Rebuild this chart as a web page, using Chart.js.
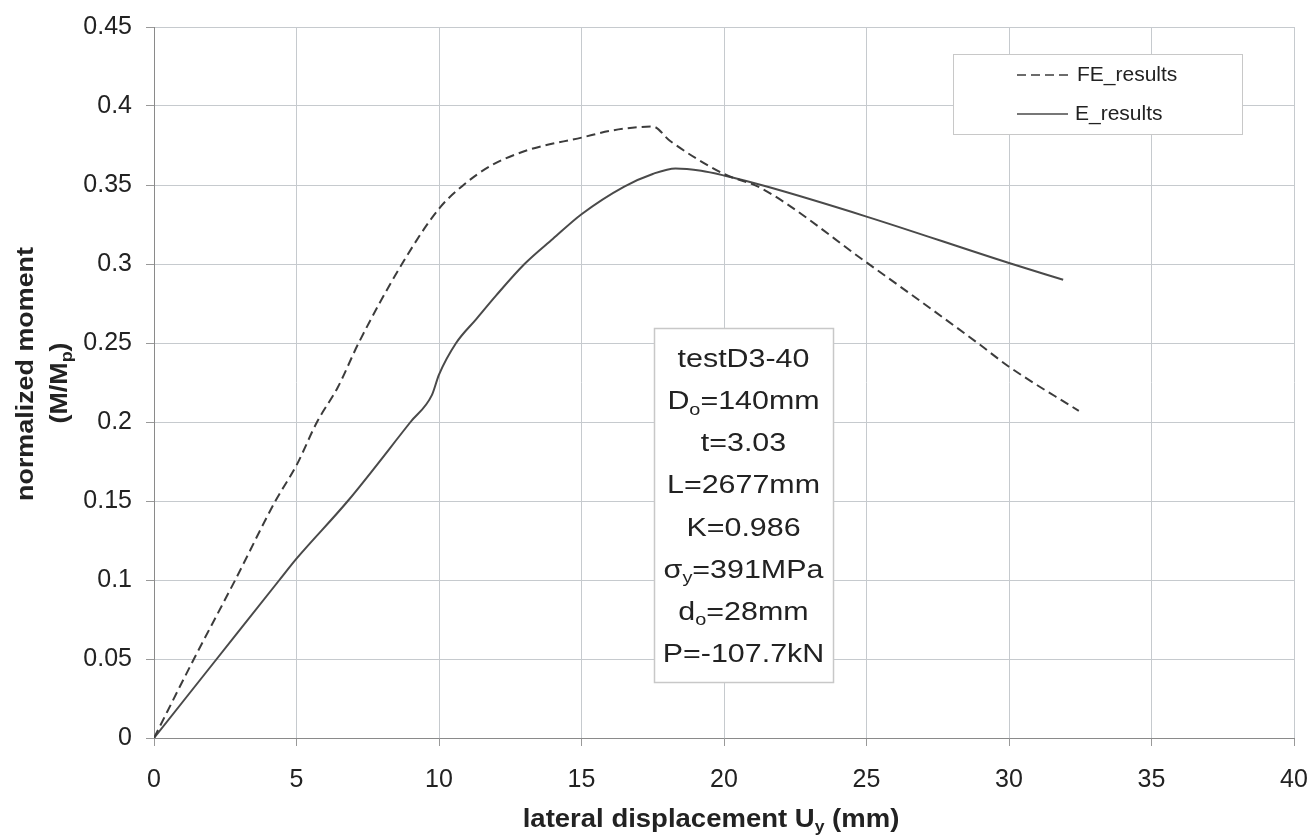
<!DOCTYPE html>
<html>
<head>
<meta charset="utf-8">
<script src="https://cdn.jsdelivr.net/npm/chart.js@4.4.0/dist/chart.umd.min.js"></script>
<style>
  html, body { margin: 0; padding: 0; background: #fff; }
  #wrap { width: 1311px; height: 838px; }
</style>
</head>
<body>
<div id="wrap"><canvas id="grafico"></canvas></div>
<script>
// FE results (dashed)
const feX = [0, 1.4, 2.85, 4.26, 5, 5.72, 6.45, 7.18, 8.7, 10, 10.86, 11.8, 13.1, 15, 16.1, 17.5, 18.1, 20, 21.3, 25, 28.9, 30, 32.45]
const feY = [0, 0.05, 0.1, 0.15, 0.1726, 0.2, 0.222, 0.25, 0.3, 0.335, 0.35, 0.362, 0.372, 0.38, 0.3846, 0.387, 0.378, 0.357, 0.348, 0.301, 0.25, 0.235, 0.207]

// experimental results (solid)
const eX = [0, 2.2, 4.4, 5, 6.8, 9.0, 9.75, 10.0, 10.6, 11.3, 12, 13, 14, 15, 16.5, 17.5, 18.3, 19.2, 20, 21.5, 25, 30, 31.9]
const eY = [0, 0.05, 0.1, 0.1135, 0.15, 0.2, 0.217, 0.23, 0.25, 0.265, 0.28, 0.3, 0.316, 0.3315, 0.349, 0.357, 0.3605, 0.359, 0.356, 0.349, 0.33, 0.3006, 0.29]

const xTicks = [0, 5, 10, 15, 20, 25, 30, 35, 40]
const yTicks = [0, 0.05, 0.1, 0.15, 0.2, 0.25, 0.3, 0.35, 0.4, 0.45]

// text box lines: [main, subscript, rest]
const infoLines = [
  ['testD3-40', '', ''],
  ['D', 'o', '=140mm'],
  ['t=3.03', '', ''],
  ['L=2677mm', '', ''],
  ['K=0.986', '', ''],
  ['\u03c3', 'y', '=391MPa'],
  ['d', 'o', '=28mm'],
  ['P=-107.7kN', '', '']
]

const fonte = 'Arial, "Liberation Sans", sans-serif'

function pontos (xs, ys) {
  return xs.map((x, i) => ({ x: x, y: ys[i] }))
}

// draws text pieces with subscripts, centred on cx, stretched by sx
function textoSub (ctx, partes, cx, cy, tam, peso, sx) {
  const fMain = peso + ' ' + tam + 'px ' + fonte
  const fSub = peso + ' ' + Math.round(tam * 0.65) + 'px ' + fonte
  let largura = 0
  partes.forEach(p => {
    ctx.font = p.sub ? fSub : fMain
    largura += ctx.measureText(p.t).width
  })
  ctx.save()
  ctx.translate(cx, cy)
  ctx.scale(sx || 1, 1)
  let x = -largura / 2
  ctx.textAlign = 'left'
  ctx.textBaseline = 'middle'
  partes.forEach(p => {
    ctx.font = p.sub ? fSub : fMain
    ctx.fillText(p.t, x, p.sub ? tam * 0.3 : 0)
    x += ctx.measureText(p.t).width
  })
  ctx.restore()
}

const extras = {
  id: 'extras',
  afterDraw (chart) {
    const ctx = chart.ctx
    ctx.save()
    ctx.fillStyle = '#222'

    // x axis title
    textoSub(ctx, [
      { t: 'lateral displacement U' },
      { t: 'y', sub: true },
      { t: ' (mm)' }
    ], 711, 820, 25, 'bold', 1.1)

    // y axis title (rotated)
    ctx.save()
    ctx.translate(26, 374)
    ctx.rotate(-Math.PI / 2)
    textoSub(ctx, [{ t: 'normalized moment' }], 0, 0, 24, 'bold', 1.12)
    textoSub(ctx, [{ t: '(M/M' }, { t: 'p', sub: true }, { t: ')' }], -9, 34, 24, 'bold', 1.12)
    ctx.restore()

    // legend box
    const lx = 953, ly = 54, lw = 289, lh = 80
    ctx.fillStyle = '#fff'
    ctx.fillRect(lx, ly, lw, lh)
    ctx.strokeStyle = '#c8c8c8'
    ctx.lineWidth = 1
    ctx.strokeRect(lx + 0.5, ly + 0.5, lw, lh)
    chart.data.datasets.forEach((ds, i) => {
      const yy = i === 0 ? 75 : 114
      ctx.strokeStyle = ds.borderColor
      ctx.lineWidth = 1.5
      ctx.setLineDash(ds.borderDash || [])
      ctx.beginPath()
      ctx.moveTo(1017, yy)
      ctx.lineTo(i === 0 ? 1073 : 1068, yy)
      ctx.stroke()
      ctx.setLineDash([])
      ctx.fillStyle = '#222'
      ctx.font = '21px ' + fonte
      ctx.textAlign = 'left'
      ctx.textBaseline = 'middle'
      ctx.fillText(ds.label, i === 0 ? 1077 : 1075, yy)
    })

    // info box
    const bx = 654, by = 328, bw = 179, bh = 354
    ctx.fillStyle = '#fff'
    ctx.fillRect(bx, by, bw, bh)
    ctx.strokeStyle = '#c8c8c8'
    ctx.strokeRect(bx + 0.5, by + 0.5, bw, bh)
    ctx.fillStyle = '#222'
    infoLines.forEach((l, i) => {
      const partes = [{ t: l[0] }]
      if (l[1]) partes.push({ t: l[1], sub: true })
      if (l[2]) partes.push({ t: l[2] })
      textoSub(ctx, partes, bx + bw / 2, 360 + i * 42.1, 26, 'normal', 1.17)
    })
    ctx.restore()
  }
}

const grafico = document.getElementById('grafico')

const graficoMomento = new Chart(grafico, {
  type: 'scatter',
  data: {
    datasets: [{
      label: 'FE_results',
      data: pontos(feX, feY),
      showLine: true,
      borderColor: '#3c3c3c',
      borderWidth: 2,
      borderDash: [9, 5],
      pointRadius: 0,
      cubicInterpolationMode: 'monotone'
    }, {
      label: 'E_results',
      data: pontos(eX, eY),
      showLine: true,
      borderColor: '#4a4a4a',
      borderWidth: 2,
      pointRadius: 0,
      cubicInterpolationMode: 'monotone'
    }]
  },
  options: {
    responsive: true,
    maintainAspectRatio: false,
    animation: false,
    layout: { padding: { left: 0, top: 27, right: 17, bottom: 0 } },
    plugins: {
      legend: { display: false },
      tooltip: { enabled: false }
    },
    scales: {
      x: {
        type: 'linear',
        min: 0,
        max: 40,
        afterBuildTicks: (ax) => { ax.ticks = xTicks.map(v => ({ value: v })) },
        afterFit: (ax) => {
          ax.height = 100
          ax.paddingLeft = 0
          ax.paddingRight = 0
        },
        ticks: {
          color: '#222',
          font: { size: 25, family: fonte },
          padding: 19,
          maxRotation: 0
        },
        grid: { color: '#c6cace', tickLength: 8, tickColor: '#999' },
        border: { color: '#8a8a8a', width: 1 }
      },
      y: {
        type: 'linear',
        min: 0,
        max: 0.45,
        afterBuildTicks: (ax) => { ax.ticks = yTicks.map(v => ({ value: v })) },
        afterFit: (ax) => {
          ax.width = 154
          ax.paddingTop = 0
          ax.paddingBottom = 0
        },
        ticks: {
          color: '#222',
          font: { size: 25, family: fonte },
          padding: 14,
          callback: (v) => String(Math.round(v * 100) / 100)
        },
        grid: { color: '#c6cace', tickLength: 8, tickColor: '#999' },
        border: { color: '#8a8a8a', width: 1 }
      }
    }
  },
  plugins: [extras]
})
</script>
</body>
</html>
